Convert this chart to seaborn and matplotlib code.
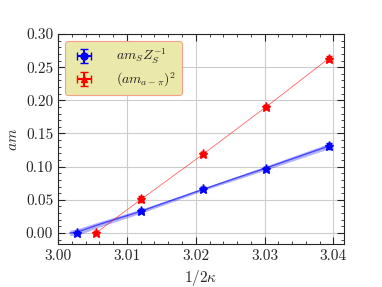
import numpy as np
import pandas as pd
import matplotlib
matplotlib.use("Agg")
import matplotlib.pyplot as plt
import seaborn as sns
from matplotlib.ticker import AutoMinorLocator, MultipleLocator

# data
inv2k_s = [3.0027, 3.0121, 3.0211, 3.0302, 3.0393]
am_s = [0.000, 0.033, 0.067, 0.097, 0.131]
am_s_err = [0.001, 0.003, 0.002, 0.003, 0.004]

inv2k_pi = [3.0055, 3.0121, 3.0211, 3.0302, 3.0393]
am_pi2 = [0.000, 0.051, 0.119, 0.190, 0.263]
am_pi2_err = [0.001, 0.004, 0.003, 0.003, 0.004]

xerr = [0.0003, 0.0003, 0.0003, 0.0003, 0.0003]

# fitted curve for am_S Z_S^-1 with its band
fit_x = [3.0017, 3.0027, 3.0060, 3.0121, 3.0211, 3.0302, 3.0393]
fit_y = [0.000, 0.001, 0.013, 0.033, 0.066, 0.098, 0.131]
fit_err = [0.004, 0.005, 0.004, 0.003, 0.002, 0.003, 0.004]

df_fit = pd.DataFrame({"x": fit_x, "y": fit_y, "err": fit_err})
df_pi = pd.DataFrame({"x": inv2k_pi, "y": am_pi2})

sns.set_style("ticks")
plt.rcParams["font.family"] = "serif"
plt.rcParams["font.serif"] = ["cmr10", "DejaVu Serif"]
plt.rcParams["mathtext.fontset"] = "cm"
plt.rcParams["axes.formatter.use_mathtext"] = True
plt.rcParams["font.size"] = 11

fig = plt.figure(figsize=(3.82, 2.87), dpi=100)
ax = fig.add_axes([0.152, 0.15, 0.748, 0.7315])

# fit band and lines
ax.fill_between(df_fit.x, df_fit.y - df_fit.err, df_fit.y + df_fit.err,
                color="blue", alpha=0.3, lw=0)
sns.lineplot(data=df_fit, x="x", y="y", ax=ax, color="blue", lw=1.0,
             alpha=0.6, sort=False)
sns.lineplot(data=df_pi, x="x", y="y", ax=ax, color="red", lw=0.6,
             alpha=0.6, sort=False)

# data points
ax.errorbar(inv2k_s, am_s, yerr=am_s_err, xerr=xerr, fmt="*", color="blue",
            ms=6.5, capsize=2, elinewidth=1.2)
ax.errorbar(inv2k_pi, am_pi2, yerr=am_pi2_err, xerr=xerr, fmt="*", color="red",
            ms=6.5, capsize=2, elinewidth=1.2)

# legend handles
h1 = ax.errorbar([np.nan], [np.nan], yerr=[0.0], xerr=[0.0], fmt="o",
                 color="blue", ms=5, capsize=3)
h2 = ax.errorbar([np.nan], [np.nan], yerr=[0.0], xerr=[0.0], fmt="^",
                 color="red", ms=5, capsize=3)
leg = ax.legend([h1, h2], [r"$am_SZ_S^{-1}$", r"$(am_{a-\pi})^2$"],
                loc="upper left", fancybox=True, framealpha=1.0,
                facecolor="#eae9a9", edgecolor="#f5a08a", fontsize=10,
                handlelength=1.8, borderpad=0.45, labelspacing=0.3,
                handletextpad=1.4, borderaxespad=0.5)
leg.get_frame().set_linewidth(0.8)

ax.set_xlim(3.0, 3.0415)
ax.set_ylim(-0.0166, 0.30)
ax.xaxis.set_major_locator(MultipleLocator(0.01))
ax.yaxis.set_major_locator(MultipleLocator(0.05))
ax.xaxis.set_minor_locator(AutoMinorLocator(5))
ax.yaxis.set_minor_locator(AutoMinorLocator(5))
ax.xaxis.set_major_formatter(plt.FormatStrFormatter("%.2f"))
ax.yaxis.set_major_formatter(plt.FormatStrFormatter("%.2f"))
ax.tick_params(which="both", direction="in", top=True, right=True)
ax.tick_params(which="major", length=5)
ax.tick_params(which="minor", length=2.5)
ax.grid(True, which="major", color="#cccccc", lw=0.8)
ax.set_axisbelow(True)

ax.set_xlabel(r"$1/2\kappa$")
ax.set_ylabel(r"$am$")

fig.savefig("out.png", dpi=100)
